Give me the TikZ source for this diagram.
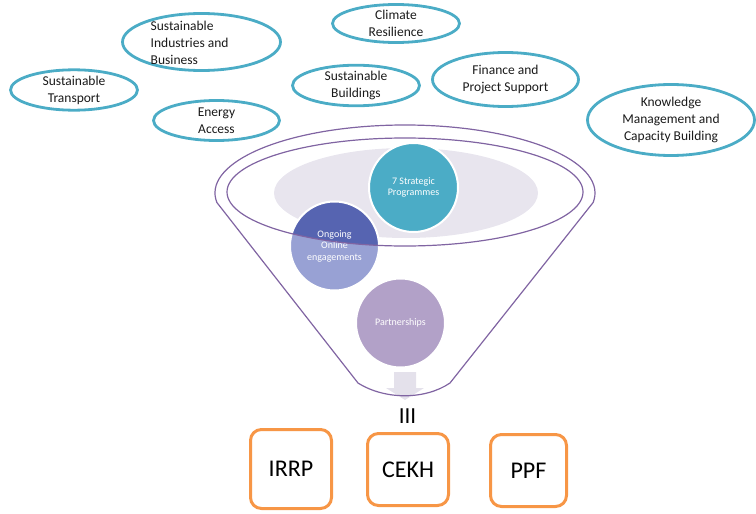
\documentclass[tikz,border=0pt]{standalone}
\usepackage{fontspec}
\setmainfont{Carlito}
\usetikzlibrary{shapes.geometric}
\definecolor{tealc}{HTML}{4BACC6}
\definecolor{ongdark}{HTML}{5664B1}
\definecolor{onglight}{HTML}{98A1D4}
\definecolor{partc}{HTML}{B2A1C8}
\definecolor{funnelc}{HTML}{8064A2}
\definecolor{greyc}{HTML}{E8E5EE}
\definecolor{arrowc}{HTML}{E4E1EB}
\definecolor{orangec}{HTML}{F79646}
\definecolor{txt}{HTML}{1A1A1A}
\begin{document}
\begin{tikzpicture}[x=1pt,y=-1pt,
  topic/.style={ellipse, draw=tealc, line width=2.8pt, inner sep=0pt, align=center,
    text=txt, font=\fontsize{13.5}{17}\selectfont},
  prog/.style={circle, draw=white, line width=2pt, inner sep=0pt, minimum size=89pt,
    align=center, text=white, font=\fontsize{10}{11.5}\selectfont},
  funnelline/.style={draw=funnelc, line width=1.2pt},
  outbox/.style={draw=orangec, line width=3pt, rounded corners=11pt, fill=white,
    inner sep=0pt, text=black, font=\fontsize{24}{28}\selectfont}]
\useasboundingbox (0,0) rectangle (756,514);

% topic ellipses
\node[topic, minimum width=127pt, minimum height=39pt] (transport) at (74,90) {Sustainable\\Transport};
\node[topic, minimum width=158pt, minimum height=57pt] (industries) at (201.5,42) {};
\node[anchor=west, align=left, inner sep=0pt, text=txt, font=\fontsize{13.5}{17}\selectfont] (industriestext) at (150.5,43) {Sustainable\\Industries and\\Business};
\node[topic, minimum width=126pt, minimum height=40pt] (energy) at (216.5,120.5) {Energy\\Access};
\node[topic, minimum width=127pt, minimum height=38pt] (climate) at (396,23.5) {Climate\\Resilience};
\node[topic, minimum width=127pt, minimum height=40pt] (buildings) at (356,85.5) {Sustainable\\Buildings};
\node[topic, minimum width=146pt, minimum height=54pt] (finance) at (505.5,79.5) {Finance and\\Project Support};
\node[topic, minimum width=167pt, minimum height=71pt] (knowledge) at (671,120) {Knowledge\\Management and\\Capacity Building};

% funnel content
\coordinate (innerc) at (405,192);
\node[ellipse, fill=greyc, inner sep=0pt, minimum width=264pt, minimum height=90pt] (greyell) at (406,193) {};
\node[prog, fill=tealc] (strategic) at (413.5,187.5) {7 Strategic\\Programmes};
\node[prog, fill=onglight, path picture={\fill[ongdark] (innerc) ellipse[x radius=178pt, y radius=54pt];}] (ongoing) at (334.5,246) {Ongoing\\Online\\engagements};
\node[prog, fill=partc] (partnerships) at (400.5,323) {Partnerships};

% down arrow
\fill[arrowc] (394,372) -- (416,372) -- (416,388) -- (424,388) -- (405,400) -- (386,388) -- (394,388) -- cycle;

% funnel outlines
\node[ellipse, funnelline, inner sep=0pt, minimum width=356pt, minimum height=108pt] (rim) at (innerc) {};
\draw[funnelline] (216.85,202.46) arc[start angle=188, end angle=-8, x radius=190pt, y radius=68pt]
  -- (450,383) .. controls (425,400) and (385,400) .. (358,383) -- cycle;

% III
\node[font=\fontsize{23}{27}\selectfont, text=black, inner sep=0pt] (three) at (407.5,416) {III};

% output boxes
\node[outbox, minimum width=81pt, minimum height=79pt] (irrp) at (291,469) {IRRP};
\node[outbox, minimum width=81pt, minimum height=72pt] (cekh) at (408,469.5) {CEKH};
\node[outbox, minimum width=76pt, minimum height=72pt] (ppf) at (528.5,470.5) {PPF};
\end{tikzpicture}
\end{document}
